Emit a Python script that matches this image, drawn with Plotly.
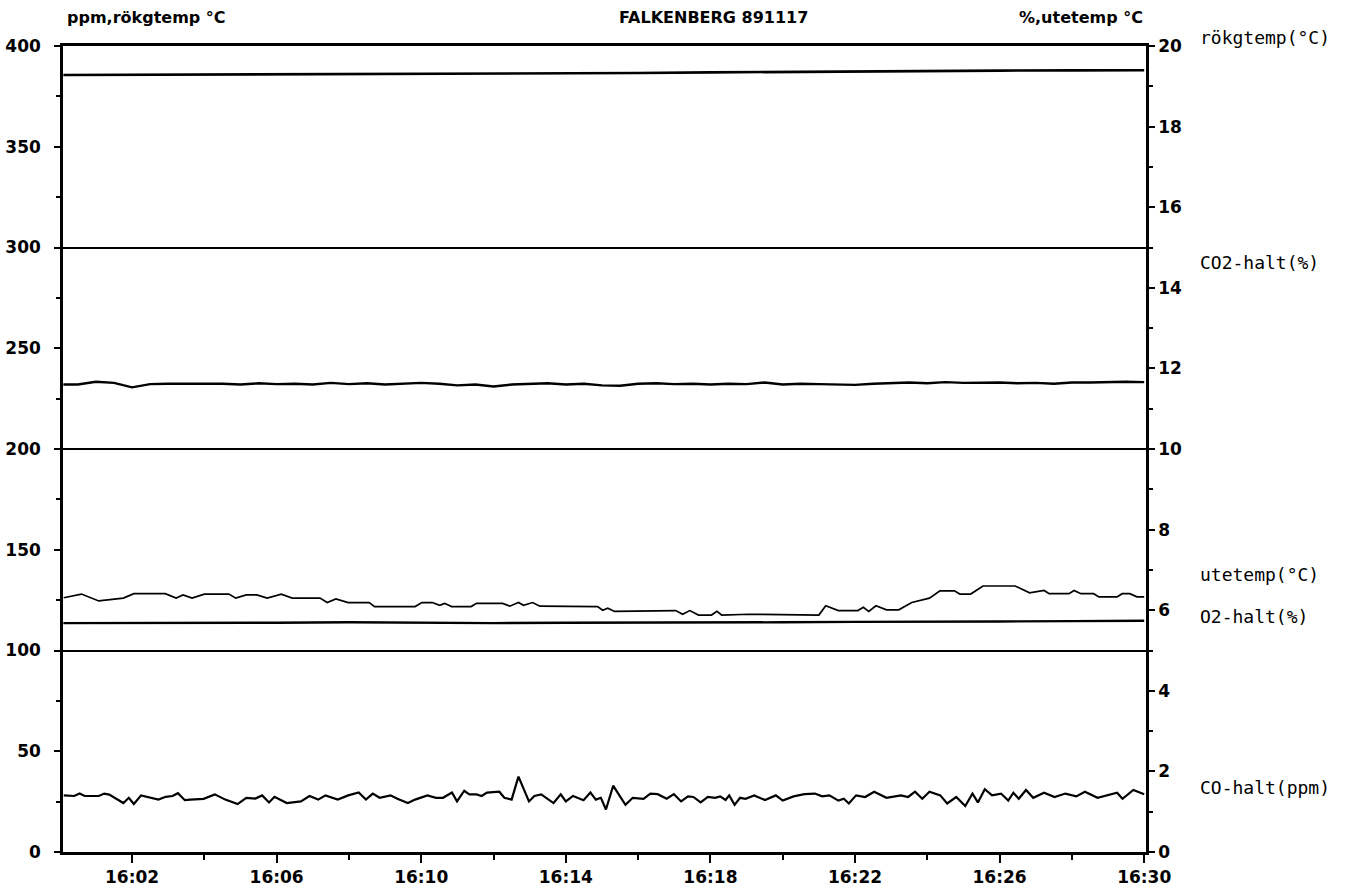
import plotly.graph_objects as go

# ---------------- data (minutes after 16:00) ----------------
rokg_t = [0.1, 2, 4, 6, 8, 10, 12, 14, 16, 18, 20, 22, 24, 26, 28, 30]
rokg_v = [385.6, 385.7, 385.8, 385.9, 386.0, 386.0, 386.1, 386.3, 386.6, 386.9, 387.2, 387.4, 387.6, 387.8, 387.9, 388.0]

co2_t = [0.1, 0.5, 1.0, 1.5, 2.0, 2.5, 3.0, 3.5, 4.0, 4.5, 5.0, 5.5, 6.0, 6.5, 7.0, 7.5, 8.0, 8.5, 9.0, 9.5,
         10.0, 10.5, 11.0, 11.5, 12.0, 12.5, 13.0, 13.5, 14.0, 14.5, 15.0, 15.5, 16.0, 16.5, 17.0, 17.5, 18.0,
         18.5, 19.0, 19.5, 20.0, 20.5, 21.0, 21.5, 22.0, 22.5, 23.0, 23.5, 24.0, 24.5, 25.0, 25.5, 26.0, 26.5,
         27.0, 27.5, 28.0, 28.5, 29.0, 29.5, 30.0]
co2_v = [11.60, 11.60, 11.67, 11.64, 11.53, 11.61, 11.62, 11.62, 11.61, 11.62, 11.60, 11.63, 11.61, 11.62,
         11.60, 11.64, 11.61, 11.63, 11.60, 11.62, 11.64, 11.62, 11.58, 11.60, 11.55, 11.60, 11.62, 11.63,
         11.60, 11.62, 11.58, 11.57, 11.62, 11.63, 11.61, 11.62, 11.60, 11.62, 11.61, 11.65, 11.60, 11.62,
         11.61, 11.60, 11.59, 11.62, 11.63, 11.65, 11.63, 11.66, 11.64, 11.65, 11.65, 11.63, 11.64, 11.62,
         11.65, 11.65, 11.66, 11.67, 11.66]

o2_t = [0.1, 2, 4, 6, 8, 10, 12, 14, 16, 18, 20, 22, 24, 26, 28, 30]
o2_v = [5.68, 5.68, 5.69, 5.69, 5.70, 5.69, 5.68, 5.69, 5.69, 5.70, 5.70, 5.71, 5.71, 5.72, 5.73, 5.74]

ute_t = [0.11, 0.6, 1.08, 1.76, 2.05, 2.92, 3.22, 3.41, 3.66, 4.0, 4.68, 4.87, 5.16, 5.45, 5.74, 6.13, 6.43,
         7.2, 7.4, 7.64, 7.98, 8.56, 8.71, 9.83, 10.02, 10.31, 10.51, 10.65, 10.84, 11.38, 11.53, 12.25, 12.45,
         12.69, 12.83, 13.08, 13.28, 14.88, 15.02, 15.16, 15.35, 17.04, 17.23, 17.43, 17.67, 18.03, 18.18,
         18.31, 19.06, 21.0, 21.19, 21.54, 22.08, 22.23, 22.38, 22.58, 22.87, 23.21, 23.57, 24.06, 24.35,
         24.75, 24.9, 25.2, 25.54, 26.43, 26.83, 27.23, 27.37, 27.92, 28.06, 28.25, 28.6, 28.75, 29.25,
         29.39, 29.6, 29.8, 30.0]
ute_v = [6.31, 6.40, 6.23, 6.30, 6.41, 6.41, 6.30, 6.38, 6.30, 6.40, 6.40, 6.30, 6.38, 6.38, 6.30, 6.40, 6.30,
         6.30, 6.19, 6.28, 6.19, 6.19, 6.09, 6.09, 6.19, 6.19, 6.12, 6.17, 6.09, 6.09, 6.17, 6.17, 6.10,
         6.19, 6.12, 6.19, 6.10, 6.09, 6.00, 6.05, 5.97, 5.99, 5.90, 5.99, 5.88, 5.88, 5.97,
         5.88, 5.90, 5.88, 6.11, 5.99, 5.99, 6.07, 5.97, 6.11, 6.01, 6.01, 6.19, 6.30, 6.48,
         6.48, 6.40, 6.40, 6.60, 6.60, 6.43, 6.49, 6.41, 6.41, 6.49, 6.41, 6.41, 6.33, 6.33,
         6.41, 6.41, 6.33, 6.33]

co_t = [0.11, 0.40, 0.55, 0.69, 1.08, 1.23, 1.37, 1.57, 1.76, 1.91, 2.05, 2.25, 2.54, 2.73, 2.93, 3.12, 3.27,
        3.46, 3.61, 3.98, 4.29, 4.58, 4.92, 5.16, 5.41, 5.60, 5.79, 5.94, 6.28, 6.67, 6.91, 7.15, 7.35, 7.69,
        7.98, 8.27, 8.47, 8.66, 8.85, 9.15, 9.34, 9.63, 9.83, 10.17, 10.41, 10.60, 10.85, 10.99, 11.19, 11.33,
        11.53, 11.67, 11.82, 12.16, 12.30, 12.50, 12.69, 12.98, 13.13, 13.32, 13.66, 13.86, 14.00, 14.20,
        14.49, 14.68, 14.83, 14.97, 15.11, 15.31, 15.45, 15.65, 15.85, 16.15, 16.34, 16.54, 16.79, 16.99,
        17.19, 17.38, 17.53, 17.73, 17.93, 18.13, 18.27, 18.42, 18.52, 18.67, 18.82, 18.97, 19.21, 19.51,
        19.81, 20.00, 20.30, 20.60, 20.89, 21.09, 21.29, 21.54, 21.69, 21.83, 22.03, 22.28, 22.53, 22.87,
        23.27, 23.47, 23.66, 23.86, 24.06, 24.36, 24.55, 24.80, 25.05, 25.25, 25.40, 25.59, 25.79, 26.04,
        26.24, 26.38, 26.53, 26.73, 26.93, 27.23, 27.52, 27.82, 28.12, 28.36, 28.71, 29.01, 29.25, 29.40,
        29.70, 30.00]
co_v = [28.1, 27.8, 29.0, 27.8, 27.8, 29.0, 28.5, 26.4, 24.3, 26.9, 23.8, 28.1, 26.9, 26.0, 27.4, 27.8, 29.2,
        25.7, 26.0, 26.4, 28.6, 26.0, 23.8, 26.9, 26.5, 28.1, 24.6, 27.4, 24.3, 25.1, 27.8, 26.0, 28.1, 26.0,
        28.1, 29.5, 26.0, 29.0, 26.9, 28.1, 26.4, 24.3, 26.0, 28.1, 26.9, 26.9, 29.5, 25.1, 30.4, 28.6,
        28.6, 27.8, 29.5, 29.9, 26.9, 26.0, 37.4, 25.1, 27.8, 28.6, 24.3, 28.6, 25.1, 27.8,
        25.7, 29.5, 26.0, 26.9, 21.1, 32.9, 29.0, 23.4, 26.9, 26.4, 29.0, 28.7, 26.4, 28.7,
        25.1, 27.6, 27.3, 24.6, 27.3, 26.9, 27.6, 25.8, 28.1, 23.4, 26.9, 26.4, 28.1, 25.8,
        28.1, 25.5, 27.6, 28.7, 29.0, 27.6, 28.1, 25.5, 26.4, 24.1, 28.1, 27.3, 29.9, 26.9,
        28.1, 27.3, 29.9, 26.4, 29.9, 28.1, 24.1, 27.3, 22.8, 29.0, 24.6, 31.2, 28.1, 29.0,
        25.5, 29.4, 26.4, 30.8, 26.9, 29.4, 27.3, 29.0, 27.6, 29.9, 26.9, 28.1, 29.4, 26.4,
        30.8, 28.7]

x_tickvals = [2, 6, 10, 14, 18, 22, 26, 30]
x_ticktext = ["16:02", "16:06", "16:10", "16:14", "16:18", "16:22", "16:26", "16:30"]

# ---------------- figure ----------------
BLACK = "#000000"
fig = go.Figure()

fig.add_trace(go.Scatter(x=rokg_t, y=rokg_v, mode="lines", line=dict(color=BLACK, width=2.6),
                         yaxis="y", showlegend=False, name="rökgtemp"))
fig.add_trace(go.Scatter(x=co_t, y=co_v, mode="lines", line=dict(color=BLACK, width=2.2),
                         yaxis="y", showlegend=False, name="CO-halt"))
fig.add_trace(go.Scatter(x=co2_t, y=co2_v, mode="lines", line=dict(color=BLACK, width=2.4),
                         yaxis="y2", showlegend=False, name="CO2-halt"))
fig.add_trace(go.Scatter(x=o2_t, y=o2_v, mode="lines", line=dict(color=BLACK, width=2.4),
                         yaxis="y2", showlegend=False, name="O2-halt"))
fig.add_trace(go.Scatter(x=ute_t, y=ute_v, mode="lines", line=dict(color=BLACK, width=1.7),
                         yaxis="y2", showlegend=False, name="utetemp"))

tickfont = dict(family="DejaVu Sans", size=17, color=BLACK, weight="bold")
lblfont = dict(family="DejaVu Sans Mono", size=18, color=BLACK)
hdrfont = dict(family="DejaVu Sans", size=16, color=BLACK, weight="bold")

fig.update_layout(
    width=1357, height=888,
    margin=dict(l=63, r=211, t=46, b=36),
    paper_bgcolor="white", plot_bgcolor="white",
    xaxis=dict(range=[0.09, 30.05], tickvals=x_tickvals, ticktext=x_ticktext, automargin=False,
               ticks="outside", ticklen=8, tickwidth=2, tickcolor=BLACK,
               minor=dict(dtick=4, tick0=0, ticks="outside", ticklen=5, tickwidth=2, tickcolor=BLACK),
               showline=True, linecolor=BLACK, linewidth=2.5, mirror=True,
               showgrid=False, zeroline=False, tickfont=tickfont),
    yaxis=dict(range=[0, 400], dtick=50, ticks="outside", ticklen=6, tickwidth=2, tickcolor=BLACK,
               minor=dict(dtick=25, ticks="outside", ticklen=4, tickwidth=2, tickcolor=BLACK),
               showline=True, linecolor=BLACK, linewidth=2.5, showgrid=False, zeroline=False,
               tickfont=tickfont, ticklabelstandoff=10, automargin=False),
    yaxis2=dict(range=[0, 20], dtick=2, side="right", overlaying="y", anchor="x", automargin=False,
                ticks="outside", ticklen=6, tickwidth=2, tickcolor=BLACK,
                minor=dict(dtick=1, ticks="outside", ticklen=4, tickwidth=2, tickcolor=BLACK),
                showline=True, linecolor=BLACK, linewidth=2.5, showgrid=False, zeroline=False,
                tickfont=tickfont),
    yaxis3=dict(range=[0, 400], dtick=100, overlaying="y", anchor="x", showticklabels=False,
                automargin=False,
                showgrid=True, gridcolor=BLACK, gridwidth=2, zeroline=False, showline=False, ticks=""),
)
# invisible trace to activate the grid axis
fig.add_trace(go.Scatter(x=[None], y=[None], yaxis="y3", showlegend=False, hoverinfo="skip"))

annots = [
    dict(text="ppm,rökgtemp °C", x=0.002, y=1.035, xanchor="left", font=hdrfont),
    dict(text="FALKENBERG 891117", x=0.601, y=1.035, xanchor="center", font=hdrfont),
    dict(text="%,utetemp °C", x=0.999, y=1.035, xanchor="right", font=hdrfont),
    dict(text="rökgtemp(°C)", x=1.048, y=1.011, xanchor="left", font=lblfont),
    dict(text="CO2-halt(%)", x=1.048, y=0.732, xanchor="left", font=lblfont),
    dict(text="utetemp(°C)", x=1.048, y=0.344, xanchor="left", font=lblfont),
    dict(text="O2-halt(%)", x=1.048, y=0.2916, xanchor="left", font=lblfont),
    dict(text="CO-halt(ppm)", x=1.048, y=0.0806, xanchor="left", font=lblfont),
]
for a in annots:
    fig.add_annotation(xref="paper", yref="paper", showarrow=False, yanchor="middle", **a)

fig.write_html("out.html")
